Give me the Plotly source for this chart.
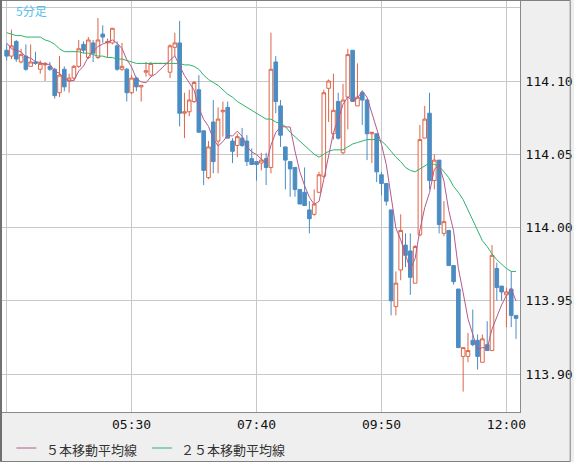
import pandas as pd
import plotly.graph_objects as go

# ---- data (USD/JPY 5-minute candles) ----
start_time = "2016-12-01 03:20"
n_candles = 107
times = pd.date_range(start_time, periods=n_candles, freq="5min")

opens = [114.121, 114.117, 114.127, 114.113, 114.117, 114.110, 114.113, 114.108, 114.111, 114.110,
         114.108, 114.092, 114.108, 114.100, 114.102, 114.110, 114.125, 114.116, 114.126, 114.116,
         114.132, 114.126, 114.126, 114.124, 114.108, 114.108, 114.092, 114.102, 114.096, 114.106,
         114.104, 114.1119, 114.1119, 114.1119, 114.106, 114.123, 114.126, 114.078, 114.079, 114.086,
         114.094, 114.066, 114.034, 114.072, 114.059, 114.079, 114.082, 114.059, 114.056, 114.061,
         114.059, 114.047, 114.045, 114.044, 114.047, 114.041, 114.113, 114.083, 114.055, 114.045,
         114.041, 114.026, 114.024, 114.012, 114.009, 114.024, 114.035, 114.095, 114.064, 114.086,
         114.051, 114.089, 114.121, 114.083, 114.092, 114.087, 114.064, 114.064, 114.036, 114.030,
         114.012, 113.946, 113.971, 113.988, 113.984, 113.962, 113.995, 114.061, 114.078, 114.032,
         114.046, 113.996, 113.998, 113.974, 113.958, 113.912, 113.912, 113.923, 113.923, 113.908,
         113.920, 113.916, 113.972, 113.960, 113.954, 113.958, 113.940]
highs = [114.125, 114.135, 114.128, 114.122, 114.125, 114.125, 114.120, 114.114, 114.113, 114.113,
         114.109, 114.117, 114.110, 114.105, 114.111, 114.128, 114.127, 114.130, 114.128, 114.143,
         114.138, 114.129, 114.136, 114.127, 114.126, 114.109, 114.104, 114.103, 114.097, 114.113,
         114.113, 114.112, 114.112, 114.112, 114.125, 114.133, 114.141, 114.092, 114.094, 114.100,
         114.104, 114.066, 114.059, 114.087, 114.082, 114.086, 114.086, 114.061, 114.064, 114.068,
         114.063, 114.054, 114.045, 114.051, 114.051, 114.133, 114.117, 114.087, 114.055, 114.045,
         114.041, 114.026, 114.041, 114.018, 114.026, 114.038, 114.094, 114.101, 114.105, 114.092,
         114.098, 114.122, 114.121, 114.112, 114.093, 114.088, 114.065, 114.064, 114.038, 114.030,
         114.012, 113.970, 114.009, 113.996, 113.996, 113.988, 114.070, 114.083, 114.092, 114.050,
         114.046, 114.018, 113.998, 113.974, 113.958, 113.918, 113.928, 113.944, 113.927, 113.927,
         113.936, 113.988, 113.976, 113.960, 113.959, 113.970, 113.940]
lows = [114.114, 114.115, 114.113, 114.112, 114.107, 114.110, 114.111, 114.105, 114.100, 114.107,
        114.088, 114.089, 114.093, 114.092, 114.100, 114.109, 114.119, 114.115, 114.113, 114.115,
        114.126, 114.116, 114.125, 114.107, 114.107, 114.086, 114.091, 114.093, 114.086, 114.103,
        114.103, 114.1119, 114.1119, 114.1119, 114.102, 114.117, 114.069, 114.061, 114.076, 114.085,
        114.065, 114.029, 114.033, 114.037, 114.037, 114.062, 114.061, 114.044, 114.048, 114.055,
        114.042, 114.043, 114.032, 114.039, 114.029, 114.037, 114.078, 114.055, 114.026, 114.021,
        114.021, 114.016, 114.015, 113.996, 114.008, 114.024, 114.034, 114.072, 114.060, 114.060,
        114.050, 114.067, 114.086, 114.083, 114.070, 114.046, 114.044, 114.031, 114.022, 114.015,
        113.940, 113.940, 113.964, 113.973, 113.954, 113.962, 113.994, 114.061, 114.026, 114.026,
        113.996, 113.994, 113.974, 113.961, 113.918, 113.888, 113.908, 113.919, 113.903, 113.908,
        113.916, 113.916, 113.950, 113.950, 113.932, 113.932, 113.924]
closes = [114.117, 114.124, 114.115, 114.118, 114.108, 114.113, 114.112, 114.112, 114.112, 114.108,
          114.090, 114.104, 114.096, 114.102, 114.110, 114.122, 114.121, 114.128, 114.119, 114.128,
          114.130, 114.127, 114.136, 114.108, 114.110, 114.092, 114.102, 114.096, 114.097, 114.107,
          114.112, 114.112, 114.112, 114.112, 114.124, 114.126, 114.078, 114.079, 114.087, 114.099,
          114.065, 114.039, 114.055, 114.045, 114.074, 114.080, 114.061, 114.052, 114.062, 114.056,
          114.045, 114.043, 114.043, 114.046, 114.041, 114.108, 114.086, 114.063, 114.046, 114.040,
          114.026, 114.016, 114.015, 114.006, 114.016, 114.036, 114.092, 114.100, 114.080, 114.061,
          114.087, 114.118, 114.086, 114.089, 114.087, 114.064, 114.065, 114.038, 114.030, 114.018,
          113.950, 113.962, 113.998, 113.981, 113.966, 113.987, 114.060, 114.074, 114.032, 114.046,
          114.002, 114.004, 113.974, 113.963, 113.918, 113.918, 113.916, 113.920, 113.912, 113.924,
          113.916, 113.981, 113.959, 113.956, 113.956, 113.940, 113.938]

ma5 = [114.126, 114.122, 114.121, 114.120, 114.1164, 114.1156, 114.1132, 114.1126, 114.1114, 114.1114,
       114.1068, 114.1052, 114.1020, 114.1000, 114.1004, 114.1068, 114.1102, 114.1166, 114.1200, 114.1236,
       114.1252, 114.1264, 114.1280, 114.1258, 114.1222, 114.1146, 114.1096, 114.1016, 114.0994, 114.0988,
       114.1028, 114.1048, 114.1080, 114.1110, 114.1144, 114.1172, 114.1104, 114.1038, 114.0988, 114.0938,
       114.0816, 114.0738, 114.0690, 114.0606, 114.0556, 114.0586, 114.0630, 114.0624, 114.0658, 114.0622,
       114.0552, 114.0516, 114.0498, 114.0466, 114.0436, 114.0562, 114.0648, 114.0688, 114.0688, 114.0686,
       114.0522, 114.0382, 114.0286, 114.0206, 114.0158, 114.0178, 114.0330, 114.0500, 114.0648, 114.0738,
       114.0840, 114.0892, 114.0864, 114.0882, 114.0934, 114.0888, 114.0782, 114.0686, 114.0568, 114.0430,
       114.0202, 113.9996, 113.9916, 113.9818, 113.9714, 113.9788, 113.9984, 114.0136, 114.0238, 114.0398,
       114.0428, 114.0316, 114.0116, 113.9978, 113.9722, 113.9554, 113.9378, 113.9270, 113.9168, 113.9180,
       113.9176, 113.9306, 113.9384, 113.9472, 113.9536, 113.9584, 113.9498]
ma25 = [114.133, 114.132, 114.131, 114.131, 114.130, 114.130, 114.130, 114.130, 114.128, 114.127,
        114.125, 114.122, 114.120, 114.120, 114.120, 114.120, 114.119, 114.119, 114.118, 114.117,
        114.117, 114.116, 114.116, 114.115, 114.115, 114.114, 114.113, 114.112, 114.112, 114.112,
        114.112, 114.112, 114.112, 114.112, 114.112, 114.112, 114.112, 114.111, 114.111, 114.110,
        114.108, 114.104, 114.101, 114.099, 114.097, 114.094, 114.091, 114.089, 114.086, 114.084,
        114.082, 114.080, 114.078, 114.076, 114.074, 114.074, 114.072, 114.071, 114.069, 114.065,
        114.062, 114.059, 114.056, 114.053, 114.050, 114.048, 114.050, 114.052, 114.053, 114.053,
        114.053, 114.055, 114.057, 114.058, 114.059, 114.060, 114.060, 114.060, 114.059, 114.056,
        114.052, 114.048, 114.045, 114.041, 114.039, 114.038, 114.040, 114.042, 114.044, 114.043,
        114.042, 114.038, 114.034, 114.028, 114.024, 114.019, 114.012, 114.004, 113.997, 113.991,
        113.987, 113.982, 113.978, 113.975, 113.972, 113.970, 113.970]

x_tick_times = ["2016-12-01 03:20", "2016-12-01 05:30", "2016-12-01 07:40",
                "2016-12-01 09:50", "2016-12-01 12:00"]
x_tick_labels = ["", "05:30", "07:40", "09:50", "12:00"]
y_tick_values = [113.90, 113.95, 114.00, 114.05, 114.10, 114.15]
y_tick_labels = ["113.90", "113.95", "114.00", "114.05", "114.10", ""]

ma5_name = "５本移動平均線"
ma25_name = "２５本移動平均線"
period_label = "5分足"

# ---- styles ----
RED = "#de6446"
BLUE = "#4b8cc3"
MA5_COLOR = "#b45a8c"
MA25_COLOR = "#2db36e"
GRID = "#c8c8c8"
PANEL = "#efefef"
MONO = "DejaVu Sans Mono"
JP = "Noto Sans CJK JP"

W, H = 574, 462
ML, MR, MT, MB = 2, 51, 1, 50
PW = W - ML - MR
PH = H - MT - MB


def px_x(p):
    return (p - ML) / PW


def px_y(q):
    return (H - MB - q) / PH


fig = go.Figure()
fig.add_trace(go.Candlestick(
    x=times, open=opens, high=highs, low=lows, close=closes,
    increasing=dict(line=dict(color=RED, width=1), fillcolor="white"),
    decreasing=dict(line=dict(color=BLUE, width=1), fillcolor=BLUE),
    whiskerwidth=0, showlegend=False, hoverinfo="skip",
))
fig.add_trace(go.Scatter(x=times, y=ma25, mode="lines",
                         line=dict(color=MA25_COLOR, width=1), showlegend=False))
fig.add_trace(go.Scatter(x=times, y=ma5, mode="lines",
                         line=dict(color=MA5_COLOR, width=1), showlegend=False))

fig.update_layout(
    width=W, height=H,
    margin=dict(l=ML, r=MR, t=MT, b=MB),
    paper_bgcolor=PANEL, plot_bgcolor="white",
    boxgap=0.25, boxgroupgap=0,
    showlegend=False,
    xaxis=dict(
        type="date",
        range=["2016-12-01 03:15:10", "2016-12-01 12:14:08"],
        rangeslider=dict(visible=False),
        tickmode="array", tickvals=x_tick_times, ticktext=x_tick_labels,
        showgrid=True, gridcolor=GRID, gridwidth=1,
        showline=True, linecolor="#8a8a8a", linewidth=1,
        ticks="",
        tickfont=dict(family=MONO, size=13, color="#111"),
        zeroline=False, fixedrange=True,
    ),
    yaxis=dict(
        side="right",
        range=[113.87406, 114.15461],
        tickmode="array", tickvals=y_tick_values, ticktext=y_tick_labels,
        showgrid=True, gridcolor=GRID, gridwidth=1,
        showline=True, linecolor="#8a8a8a", linewidth=1,
        ticks="outside", ticklen=2, tickcolor="rgba(0,0,0,0)",
        tickfont=dict(family=MONO, size=13, color="#111"),
        zeroline=False, fixedrange=True,
    ),
)

shapes = [
    # outer frame
    dict(type="rect", xref="paper", yref="paper",
         x0=px_x(0.5), x1=px_x(573.5), y0=px_y(461.5), y1=px_y(0.5),
         line=dict(color="#808080", width=1), fillcolor="rgba(0,0,0,0)", layer="above"),
    dict(type="line", xref="paper", yref="paper",
         x0=px_x(1), x1=px_x(1), y0=px_y(461.5), y1=px_y(0),
         line=dict(color="#707070", width=2), layer="above"),
    # legend samples
    dict(type="line", xref="paper", yref="paper",
         x0=px_x(16.5), x1=px_x(36.5), y0=px_y(448), y1=px_y(448),
         line=dict(color=MA5_COLOR, width=1)),
    dict(type="line", xref="paper", yref="paper",
         x0=px_x(153), x1=px_x(173), y0=px_y(448), y1=px_y(448),
         line=dict(color=MA25_COLOR, width=1)),
]
fig.update_layout(shapes=shapes)

annotations = [
    dict(text=period_label, xref="paper", yref="paper", x=px_x(14), y=px_y(10.5),
         xanchor="left", yanchor="middle", showarrow=False,
         font=dict(family=JP, size=12, color="#55bef0")),
    dict(text=ma5_name, xref="paper", yref="paper", x=px_x(44), y=px_y(449),
         xanchor="left", yanchor="middle", showarrow=False,
         font=dict(family=JP, size=13, color="#333333")),
    dict(text=ma25_name, xref="paper", yref="paper", x=px_x(180), y=px_y(449),
         xanchor="left", yanchor="middle", showarrow=False,
         font=dict(family=JP, size=13, color="#333333")),
]
fig.update_layout(annotations=annotations)

fig.write_html("out.html")
